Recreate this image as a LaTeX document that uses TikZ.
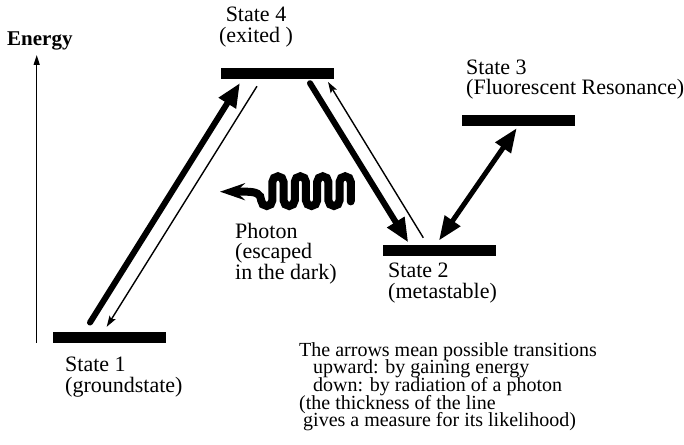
\documentclass[tikz,border=0pt]{standalone}
\usepackage{fontspec}
\setmainfont{LiberationSerif}[Extension=.ttf, UprightFont=*-Regular, BoldFont=*-Bold, ItalicFont=*-Italic, BoldItalicFont=*-BoldItalic]
\usetikzlibrary{arrows.meta}
\newcommand\lstack[2]{\vtop{\baselineskip=#1\lineskiplimit=-100pt\relax\halign{##\hfil\cr#2\crcr}}}
\newcommand\cstack[2]{\vtop{\baselineskip=#1\lineskiplimit=-100pt\relax\halign{\hfil##\hfil\cr#2\crcr}}}
\tikzset{
  bar/.style={fill=black, inner sep=0pt, minimum width=113pt, minimum height=10.5pt},
  lbl/.style={inner sep=0pt, anchor=base west, font=\fontsize{22}{21}\selectfont},
  thickarr/.style={line width=6pt, line cap=round, -{Triangle[length=24pt,width=19pt]}},
  thinarr/.style={line width=1.4pt, -{Stealth[length=11pt,width=7pt,inset=2pt]}},
  dblarr/.style={line width=5pt, {Triangle[length=24pt,width=18pt]}-{Triangle[length=24pt,width=18pt]}},
  axisarr/.style={line width=1.3pt, -{Triangle[length=10pt,width=6pt]}},
  photon/.style={line width=8pt, line cap=round, {Stealth[length=25pt,width=17pt,inset=9pt]}-}
}
\begin{document}
\begin{tikzpicture}[x=1pt,y=1pt]
\useasboundingbox (0,0) rectangle (684,444);
% energy levels
\node[bar] (s1) at (109.5,106.5) {};
\node[bar] (s4) at (277.5,370.5) {};
\node[bar] (s3) at (518.5,323.5) {};
\node[bar] (s2) at (439.5,193.6) {};
% labels
\node[inner sep=0pt, anchor=base west, font=\bfseries\fontsize{21}{21}\selectfont] (energy) at (7,398.3) {Energy};
\node[lbl, anchor=base] (l4) at (256,422) {\cstack{21pt}{State 4\cr (exited )}};
\node[lbl] (l3) at (466,369) {\lstack{20pt}{State 3\cr (Fluorescent Resonance)}};
\node[lbl] (l2) at (388,166.7) {\lstack{21pt}{State 2\cr (metastable)}};
\node[lbl] (l1) at (65,72.3) {\lstack{20.5pt}{State 1\cr (groundstate)}};
\node[lbl] (ph) at (235,205.7) {\lstack{20.5pt}{Photon\cr (escaped\cr in the dark)}};
\node[lbl, font=\fontsize{20}{17.5}\selectfont] (note) at (299,88) {\lstack{17.7pt}{The arrows mean possible transitions\cr
\hspace*{14pt}upward: by gaining energy\cr
\hspace*{14pt}down: by radiation of a photon\cr
(the thickness of the line\cr
\hspace*{4pt}gives a measure for its likelihood)}};
% energy axis
\coordinate (axb) at (36.7,101);
\coordinate (axt) at (36.7,389);
\draw[axisarr] (axb) -- (axt);
% transitions
\draw[thickarr] ([shift={(-19.5,9.5)}]s1.north) -- ([shift={(-37.5,-4)}]s4.south);
\draw[thinarr] ([shift={(-20.5,-7.25)}]s4.south) -- ([shift={(-2.8,5.25)}]s1.north);
\draw[thickarr] ([shift={(32.5,-4.25)}]s4.south) -- ([shift={(-31.2,2.5)}]s2.north);
\draw[thinarr] ([shift={(-16.2,7.2)}]s2.north) -- ([shift={(50.5,-3)}]s4.south);
\draw[dblarr] ([shift={(-0.5,4.5)}]s2.north) -- ([shift={(-1.8,-2.25)}]s3.south);
% photon
\coordinate (phtip) at (220,252.3);
\draw[photon] (phtip) -- (246,252.3) .. controls (256,252.3) and (261.15,250) .. (261.15,243.6)
  arc[start angle=180,end angle=360,radius=5.6] -- ++(0,18.5)
  arc[start angle=180,end angle=0,radius=5.6] -- ++(0,-18.5)
  arc[start angle=180,end angle=360,radius=5.6] -- ++(0,18.5)
  arc[start angle=180,end angle=0,radius=5.6] -- ++(0,-18.5)
  arc[start angle=180,end angle=360,radius=5.6] -- ++(0,18.5)
  arc[start angle=180,end angle=0,radius=5.6] -- ++(0,-18.5)
  arc[start angle=180,end angle=360,radius=5.6] -- ++(0,18.5)
  arc[start angle=180,end angle=0,radius=5.6] -- ++(0,-19.5);
\end{tikzpicture}
\end{document}
